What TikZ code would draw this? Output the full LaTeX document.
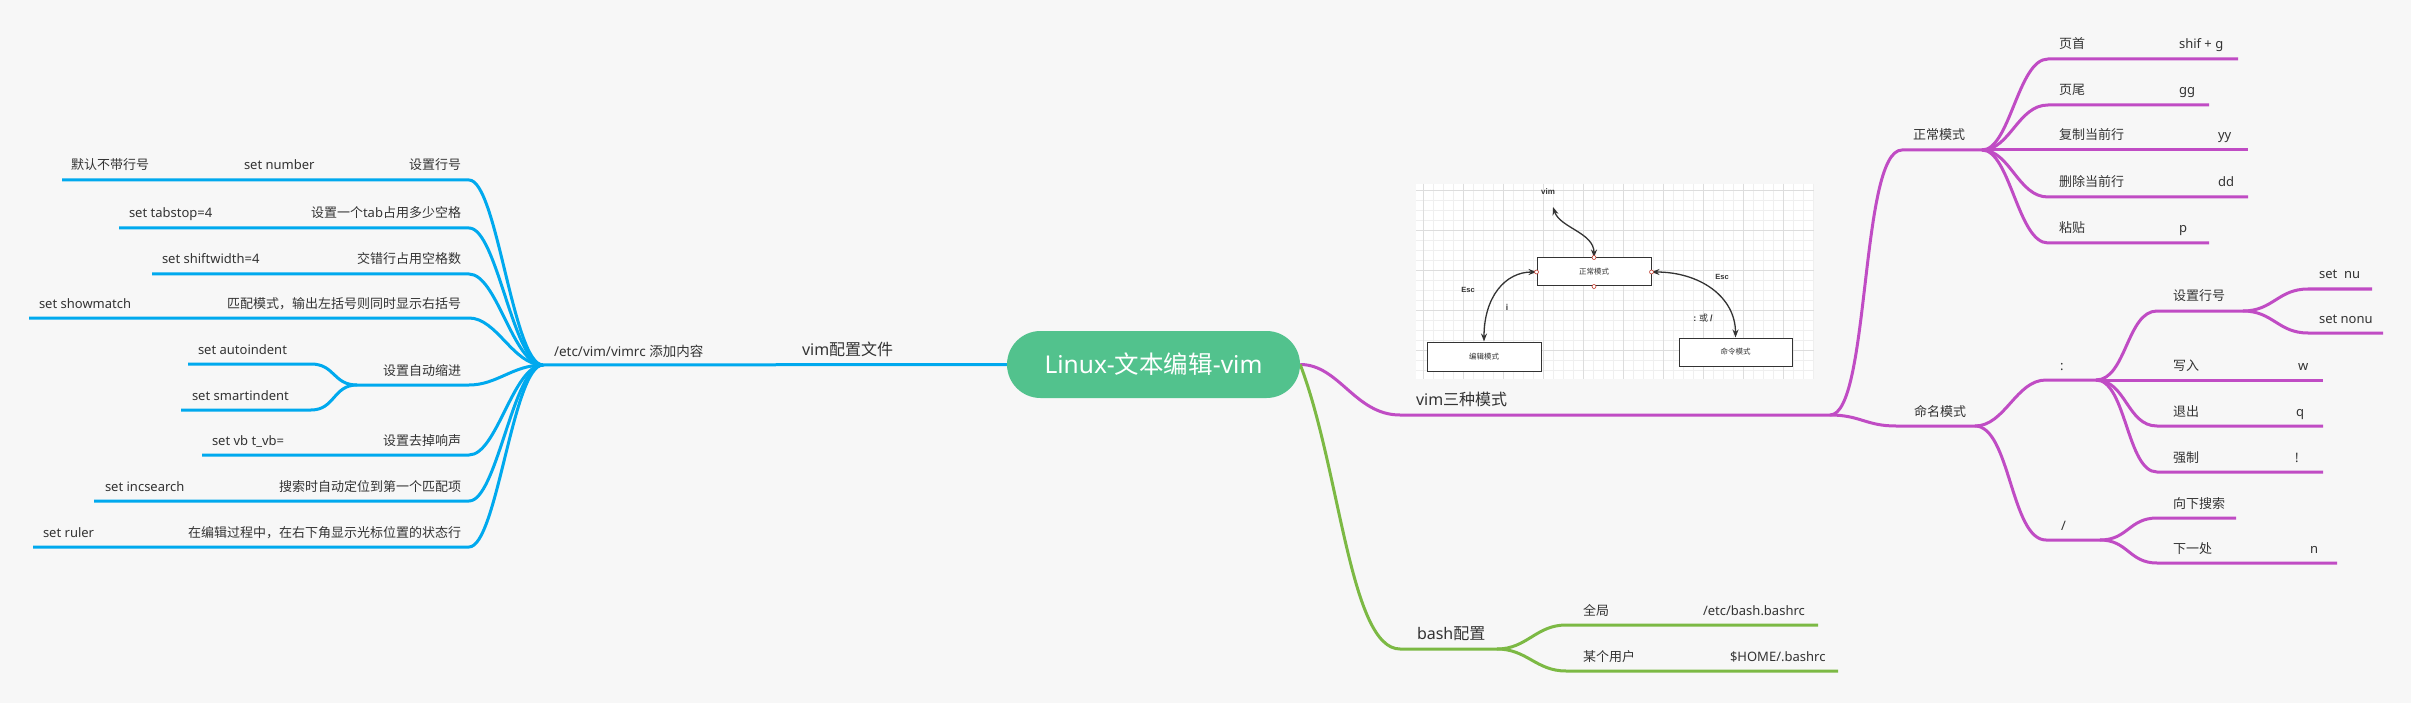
\documentclass[tikz,border=0pt]{standalone}
\usepackage{fontspec}
\setmainfont{Noto Sans CJK SC}
\newfontfamily\lsans{Liberation Sans}
\newfontfamily\lat{Noto Sans}
\usetikzlibrary{arrows.meta}
\definecolor{bg}{HTML}{F7F7F7}
\definecolor{cblue}{HTML}{00A9EE}
\definecolor{cpurp}{HTML}{C04CC4}
\definecolor{cgreen}{HTML}{7CB944}
\definecolor{croot}{HTML}{52C28D}
\definecolor{ctext}{HTML}{333333}
\definecolor{cgridmin}{HTML}{EFEFEF}
\definecolor{cgridmaj}{HTML}{DDDDDD}
\definecolor{cbox}{HTML}{333333}
\definecolor{cdot}{HTML}{C0392B}
\pgfdeclarelayer{backlayer}
\pgfdeclarelayer{linelayer}
\pgfsetlayers{backlayer,linelayer,main}
\begin{document}
\begin{tikzpicture}[x=1pt,y=-1pt,
  lbl/.style={inner sep=0pt,outer sep=0pt,text=ctext,font=\fontsize{13}{13}\selectfont,anchor=base west},
  lblr/.style={lbl,anchor=base east},
  latl/.style={lbl,font=\lat\fontsize{13}{13}\selectfont},
  lblbig/.style={lbl,font=\fontsize{16}{16}\selectfont},
  bline/.style={draw=cblue,line width=3pt},
  pline/.style={draw=cpurp,line width=3pt},
  gline/.style={draw=cgreen,line width=3pt},
  mbox/.style={draw=cbox,line width=1pt,fill=white,inner sep=0pt,font=\fontsize{7.5}{7.5}\selectfont,text=ctext},
  imgtxt/.style={inner sep=0pt,text=ctext,font=\lsans\bfseries\fontsize{7.5}{7.5}\selectfont},
  marr/.style={draw=cbox,line width=1.3pt,arrows={Stealth[length=8pt,width=6pt]-Stealth[length=8pt,width=6pt]}},
  dotc/.style={circle,draw=cdot,fill=white,inner sep=0pt,minimum size=4pt,line width=0.6pt}
]
\useasboundingbox (0,0) rectangle (2411,703);
\begin{pgfonlayer}{backlayer}
\fill[bg] (0,0) rectangle (2411,703);
\end{pgfonlayer}

% ---------- root ----------
\node[fill=croot,rounded corners=33.5pt,minimum width=293pt,minimum height=67pt,inner sep=0pt,
      text=white,font=\fontsize{24.5}{24.5}\selectfont] (root) at (1153.5,364.5) {{\lat Linux-}文本编辑{\lat -vim}};

% ---------- blue branch ----------
\coordinate (J0) at (543,365);
\node[lblbig] (vimcfg) at (802,355) {{\lat vim}配置文件};
\node[lbl,font=\fontsize{13.5}{13.5}\selectfont] (vimrc) at (554,356) {{\lat /etc/vim/vimrc }添加内容};
\begin{pgfonlayer}{linelayer}
\draw[bline] (root.west) -- (J0);
\foreach \n/\lx/\y in {b1/62/180,b2/119/228,b3/152/274,b4/29/318,b5/357/385,b6/202/455,b7/94/501,b8/33/547}{
  \coordinate (\n l) at (\lx,\y);
  \coordinate (\n e) at (469,\y);
  \draw[bline] (\n l) -- (\n e) .. controls +(28,0) and +(-30,0) .. (J0);
}
\coordinate (b5al) at (188,364);
\coordinate (b5ae) at (311,364);
\coordinate (b5bl) at (181,410);
\coordinate (b5be) at (311,410);
\draw[bline] (b5al) -- (b5ae) .. controls +(24,0) and +(-24,0) .. (b5l);
\draw[bline] (b5bl) -- (b5be) .. controls +(24,0) and +(-24,0) .. (b5l);
\end{pgfonlayer}

\node[lbl]  (t1a) at (71,170)  {默认不带行号};
\node[latl] (t1b) at (244,170) {set number};
\node[lblr] (t1c) at (461,170) {设置行号};
\node[latl] (t2a) at (129,218) {set tabstop=4};
\node[lblr] (t2b) at (461,218) {设置一个{\lat tab}占用多少空格};
\node[latl] (t3a) at (162,264) {set shiftwidth=4};
\node[lblr] (t3b) at (461,264) {交错行占用空格数};
\node[latl] (t4a) at (39,308)  {set showmatch};
\node[lblr] (t4b) at (461,308) {匹配模式，输出左括号则同时显示右括号};
\node[lblr] (t5)  at (461,375) {设置自动缩进};
\node[latl] (t5a) at (198,354) {set autoindent};
\node[latl] (t5b) at (192,400) {set smartindent};
\node[latl] (t6a) at (212,445) {set vb t\_vb=};
\node[lblr] (t6b) at (461,445) {设置去掉响声};
\node[latl] (t7a) at (105,491) {set incsearch};
\node[lblr] (t7b) at (461,491) {搜索时自动定位到第一个匹配项};
\node[latl] (t8a) at (43,537)  {set ruler};
\node[lblr] (t8b) at (461,537) {在编辑过程中，在右下角显示光标位置的状态行};

% ---------- purple branch ----------
\coordinate (pm0) at (1400,415);
\coordinate (B1) at (1830,415);
\coordinate (N1s) at (1902,150);
\coordinate (J1) at (1982,150);
\coordinate (N2s) at (1896,426);
\coordinate (J2) at (1975,426);
\coordinate (c0s) at (2046,380);
\coordinate (J3) at (2096,380);
\coordinate (s0s) at (2046,540);
\coordinate (J5) at (2100,540);
\coordinate (q1s) at (2157,311);
\coordinate (J4) at (2243,311);
\coordinate (p3e) at (2248,150);
\coordinate (q2e) at (2323,380);
\begin{pgfonlayer}{linelayer}
\draw[pline] (root.east) .. controls +(39,0) and +(-45,0) .. (pm0) -- (B1);
\draw[pline] (B1) .. controls +(40,0) and +(-42,0) .. (N1s) -- (J1);
\draw[pline] (B1) .. controls +(30,0) and +(-30,0) .. (N2s) -- (J2);
\foreach \n/\y/\ex in {p1/59/2238,p2/105/2209,p4/197/2248,p5/243/2209}{
  \coordinate (\n s) at (2048,\y);
  \coordinate (\n e) at (\ex,\y);
  \draw[pline] (J1) .. controls +(28,0) and +(-30,0) .. (\n s) -- (\n e);
}
\draw[pline] (J1) -- (p3e);
\draw[pline] (J2) .. controls +(30,0) and +(-30,0) .. (c0s) -- (J3);
\draw[pline] (J2) .. controls +(35,0) and +(-35,0) .. (s0s) -- (J5);
\draw[pline] (J3) .. controls +(30,0) and +(-30,0) .. (q1s) -- (J4);
\draw[pline] (J3) -- (q2e);
\foreach \n/\y/\ex in {q3/426/2323,q4/472/2323}{
  \coordinate (\n s) at (2157,\y);
  \coordinate (\n e) at (\ex,\y);
  \draw[pline] (J3) .. controls +(30,0) and +(-30,0) .. (\n s) -- (\n e);
}
\foreach \n/\y/\ex in {r1/289/2372,r2/333/2383}{
  \coordinate (\n s) at (2308,\y);
  \coordinate (\n e) at (\ex,\y);
  \draw[pline] (J4) .. controls +(30,0) and +(-30,0) .. (\n s) -- (\n e);
}
\foreach \n/\y/\ex in {u1/518/2236,u2/563/2337}{
  \coordinate (\n s) at (2157,\y);
  \coordinate (\n e) at (\ex,\y);
  \draw[pline] (J5) .. controls +(28,0) and +(-28,0) .. (\n s) -- (\n e);
}
\end{pgfonlayer}

\node[lblbig] (vim3) at (1416,405) {{\lat vim}三种模式};
\node[lbl] (normal) at (1913,140) {正常模式};
\node[lbl] (cmd) at (1914,416) {命名模式};
\node[lbl] (n1a) at (2059,49)  {页首};
\node[latl] (n1b) at (2179,49)  {shif + g};
\node[lbl] (n2a) at (2059,95)  {页尾};
\node[latl] (n2b) at (2179,95)  {gg};
\node[lbl] (n3a) at (2059,140) {复制当前行};
\node[latl] (n3b) at (2218,140) {yy};
\node[lbl] (n4a) at (2059,187) {删除当前行};
\node[latl] (n4b) at (2218,187) {dd};
\node[lbl] (n5a) at (2059,233) {粘贴};
\node[latl] (n5b) at (2179,233) {p};
\node[latl] (colon) at (2060,370) {:};
\node[latl] (slash) at (2061,530) {/};
\node[lbl] (m1) at (2173,301) {设置行号};
\node[latl] (m1a) at (2319,279) {set~\ nu};
\node[latl] (m1b) at (2319,323) {set nonu};
\node[lbl] (m2a) at (2173,370) {写入};
\node[latl] (m2b) at (2298,370) {w};
\node[lbl] (m3a) at (2173,416) {退出};
\node[latl] (m3b) at (2296,416) {q};
\node[lbl] (m4a) at (2173,462) {强制};
\node[latl] (m4b) at (2295,462) {!};
\node[lbl] (s1) at (2173,508) {向下搜索};
\node[lbl] (s2a) at (2173,553) {下一处};
\node[latl] (s2b) at (2310,553) {n};

% ---------- green branch ----------
\coordinate (g0) at (1400,649);
\coordinate (J6) at (1497,649);
\coordinate (g1s) at (1566,625);
\coordinate (g1e) at (1818,625);
\coordinate (g2s) at (1566,671);
\coordinate (g2e) at (1838,671);
\begin{pgfonlayer}{linelayer}
\draw[gline] (root.east) .. controls +(40,105) and +(-50,0) .. (g0) -- (J6);
\draw[gline] (J6) .. controls +(30,0) and +(-30,0) .. (g1s) -- (g1e);
\draw[gline] (J6) .. controls +(30,0) and +(-30,0) .. (g2s) -- (g2e);
\end{pgfonlayer}
\node[lblbig] (bash) at (1417,639) {{\lat bash}配置};
\node[lbl] (gl1a) at (1583,615) {全局};
\node[latl] (gl1b) at (1703,615) {/etc/bash.bashrc};
\node[lbl] (gl2a) at (1583,661) {某个用户};
\node[latl] (gl2b) at (1730,661) {\$HOME/.bashrc};

% ---------- embedded picture ----------
\fill[white] (1416,184) rectangle (1814,379);
\foreach \x in {1423,1433,...,1813} \draw[cgridmin,line width=0.7pt] (\x,184) -- (\x,379);
\foreach \y in {190,200,...,370} \draw[cgridmin,line width=0.7pt] (1416,\y) -- (1814,\y);
\foreach \x in {1423,1463,...,1813} \draw[cgridmaj,line width=0.7pt] (\x,184) -- (\x,379);
\foreach \y in {190,230,...,370} \draw[cgridmaj,line width=0.7pt] (1416,\y) -- (1814,\y);

\node[mbox,minimum width=114pt,minimum height=28pt] (bn) at (1594,272) {正常模式};
\node[mbox,minimum width=114pt,minimum height=29pt] (be) at (1484,356.5) {编辑模式};
\node[mbox,minimum width=113pt,minimum height=28pt] (bc) at (1735.5,352) {命令模式};
\node[imgtxt,font=\lsans\bfseries\fontsize{8}{8}\selectfont] (tvim) at (1548,192) {vim};
\coordinate (vimtip) at (1553,207);
\node[imgtxt] (tesc1) at (1468,290) {Esc};
\node[imgtxt,font=\lsans\bfseries\fontsize{8.5}{8.5}\selectfont] (ti) at (1507,307) {i};
\node[imgtxt] (tesc2) at (1722,277) {Esc};
\node[inner sep=0pt,text=ctext,font=\fontsize{9}{9}\selectfont] (tcolon) at (1703,318) {{\lsans\bfseries :} 或 {\lsans\bfseries /}};

\draw[marr] (vimtip) .. controls +(7,21) and +(0,-25) .. (bn.north);
\draw[marr] (be.north) .. controls +(0,-45) and +(-31,0) .. (bn.west);
\draw[marr] (bn.east) .. controls +(48,0) and +(0,-41) .. (bc.north);
\node[dotc] (d1) at (bn.north) {};
\node[dotc] (d2) at (bn.west) {};
\node[dotc] (d3) at (bn.east) {};
\node[dotc] (d4) at (bn.south) {};
\end{tikzpicture}
\end{document}
